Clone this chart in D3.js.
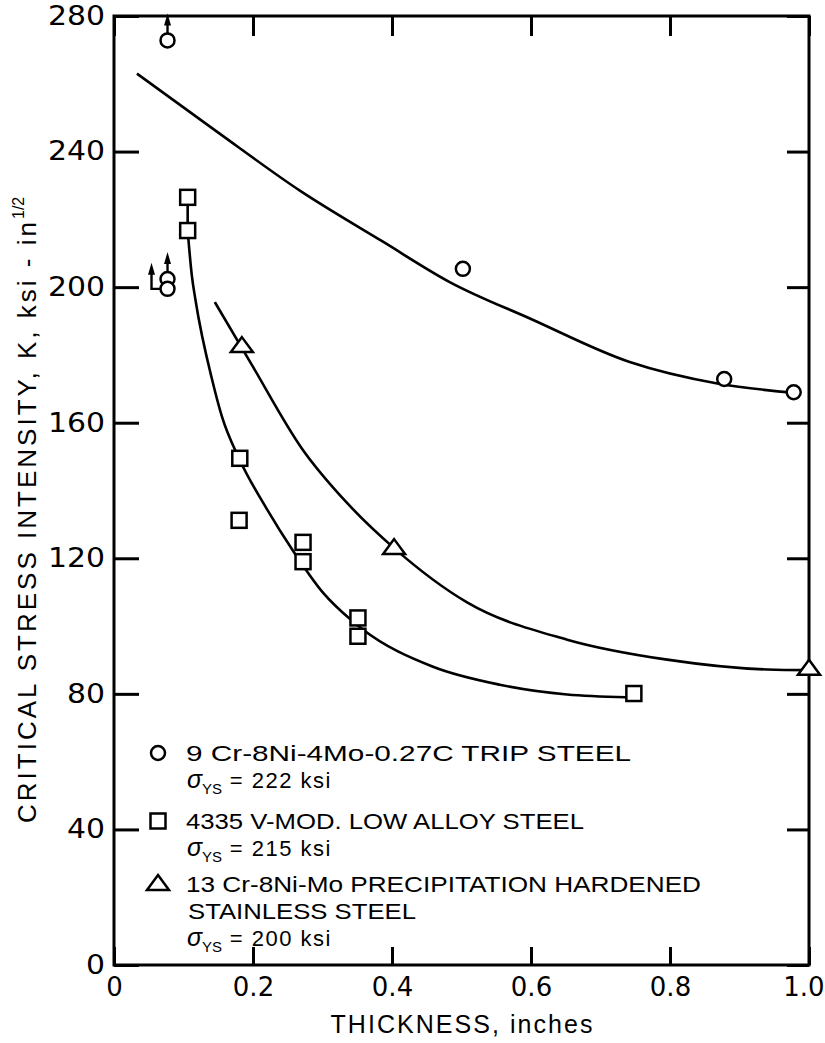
<!DOCTYPE html>
<html><head><meta charset="utf-8">
<script src="https://cdn.jsdelivr.net/npm/d3@7"></script>
<style>body{margin:0;background:#fff} svg{display:block}</style>
</head><body>
<script>
// ---- data ----
const xTicks = [0, 0.2, 0.4, 0.6, 0.8, 1.0];
const xTickLabels = ["0", "0.2", "0.4", "0.6", "0.8", "1.0"];
const yTicks = [0, 40, 80, 120, 160, 200, 240, 280];

// 9Cr-8Ni-4Mo-0.27C TRIP steel (circles)
const tripX = [0.077, 0.077, 0.077, 0.502, 0.878, 0.978];
const tripK = [272.8, 202.4, 199.5, 205.4, 172.9, 169.0];
const tripArrow = ["up", "up", "left", null, null, null];
// 4335 V-mod low alloy steel (squares)
const lowAlloyX = [0.106, 0.106, 0.181, 0.180, 0.272, 0.272, 0.351, 0.351, 0.748];
const lowAlloyK = [226.5, 216.7, 149.5, 131.2, 124.7, 119.0, 102.4, 97.0, 80.1];
// 13Cr-8Ni-Mo PH stainless (triangles)
const phX = [0.184, 0.403, 1.0];
const phK = [182.6, 123.0, 87.4];

// hand-faired curves
const tripCurveX = [0.033, 0.148, 0.268, 0.387, 0.483, 0.6, 0.742, 0.87, 0.98];
const tripCurveK = [263, 245.9, 228.4, 213.4, 201.5, 190.6, 177.9, 171.5, 168.8];
const lowAlloyCurveX = [0.106, 0.106, 0.112, 0.117, 0.142, 0.155, 0.181, 0.22, 0.258, 0.301, 0.34, 0.358, 0.459, 0.555, 0.652, 0.737];
const lowAlloyCurveK = [226.5, 216.7, 203.4, 196.5, 172, 162, 149, 134.5, 122.1, 109.8, 102, 99, 88, 82.7, 79.8, 79];
const phCurveX = [0.145, 0.196, 0.27, 0.335, 0.403, 0.508, 0.652, 0.796, 0.94, 1.0];
const phCurveK = [195.6, 177.9, 152.5, 136.4, 123, 107, 96, 90.1, 87.2, 87];

const legendSymbols = ["circle", "square", "triangle"];
const legendNames = ["9 Cr-8Ni-4Mo-0.27C TRIP STEEL", "4335 V-MOD. LOW ALLOY STEEL", "13 Cr-8Ni-Mo PRECIPITATION HARDENED"];
const legendExtra = [null, null, "STAINLESS STEEL"];
const legendYield = ["222 ksi", "215 ksi", "200 ksi"];

// ---- drawing ----
const W = 825, H = 1043;
const svg = d3.select("body").append("svg").attr("width", W).attr("height", H);
const x = d3.scaleLinear().domain([0, 1]).range([114, 809]);
const y = d3.scaleLinear().domain([0, 280]).range([965, 16]);
const tickFont = "'DejaVu Sans', sans-serif";
const textFont = "'Liberation Sans', Arial, sans-serif";

// frame
svg.append("rect").attr("x", x(0)).attr("y", y(280)).attr("width", x(1) - x(0)).attr("height", y(0) - y(280))
  .attr("fill", "none").attr("stroke", "#000").attr("stroke-width", 3);

function styleAxis(g) {
  g.select(".domain").remove();
  g.selectAll(".tick line").attr("stroke", "#000").attr("stroke-width", 3);
  g.selectAll("text").attr("font-family", tickFont).attr("font-size", 26).attr("fill", "#000");
}
const xAxisG = svg.append("g").attr("transform", `translate(0,${y(0)})`)
  .call(d3.axisBottom(x).tickValues(xTicks).tickSize(-18).tickPadding(13).tickFormat((d, i) => xTickLabels[i]))
  .call(styleAxis);
xAxisG.selectAll(".tick text").filter(d => d === 1).attr("text-anchor", "end").attr("x", 15);
svg.append("g").attr("transform", `translate(0,${y(280)})`)
  .call(d3.axisTop(x).tickValues(xTicks).tickSize(-20).tickFormat(""))
  .call(styleAxis);
svg.append("g").attr("transform", `translate(${x(0)},0)`)
  .call(d3.axisLeft(y).tickValues(yTicks).tickSize(-25).tickPadding(9).tickFormat(d3.format("d")))
  .call(styleAxis)
  .selectAll(".tick text")
  .attr("textLength", d => String(d).length * 19)
  .attr("lengthAdjust", "spacingAndGlyphs");
svg.append("g").attr("transform", `translate(${x(1)},0)`)
  .call(d3.axisRight(y).tickValues(yTicks).tickSize(-22).tickFormat(""))
  .call(styleAxis);

// axis titles
svg.append("text").attr("x", (x(0) + x(1)) / 2).attr("y", 1033).attr("text-anchor", "middle")
  .attr("font-family", textFont).attr("font-size", 25).attr("textLength", 262).attr("lengthAdjust", "spacing")
  .text("THICKNESS, inches");
const yt = svg.append("g").attr("transform", "translate(36,823) rotate(-90)");
yt.append("text").attr("x", 0).attr("y", 0).attr("font-family", textFont).attr("font-size", 26)
  .attr("textLength", 601).attr("lengthAdjust", "spacing")
  .text("CRITICAL STRESS INTENSITY, K, ksi - in");
yt.append("text").attr("x", 604).attr("y", -12).attr("font-family", textFont).attr("font-size", 16)
  .text("1/2");

// curves
const mono = d3.line().x(d => x(d[0])).y(d => y(d[1])).curve(d3.curveMonotoneX);
function curvePath(cx, ck) {
  const pts = cx.map((v, i) => [v, ck[i]]);
  // leading points sharing the same x are joined by a straight segment
  let k = 0;
  while (k + 1 < pts.length && pts[k + 1][0] === pts[k][0]) k++;
  const head = pts.slice(0, k).map((p, j) => (j === 0 ? "M" : "L") + x(p[0]) + "," + y(p[1])).join("");
  const tail = mono(pts.slice(k));
  return head ? head + "L" + tail.slice(1) : tail;
}
[[tripCurveX, tripCurveK], [lowAlloyCurveX, lowAlloyCurveK], [phCurveX, phCurveK]].forEach(([cx, ck]) => {
  svg.append("path").attr("d", curvePath(cx, ck))
    .attr("fill", "none").attr("stroke", "#000").attr("stroke-width", 2.6);
});

// markers
function drawSymbol(g, type, px, py) {
  if (type === "circle") {
    g.append("circle").attr("cx", px).attr("cy", py).attr("r", 7)
      .attr("fill", "#fff").attr("stroke", "#000").attr("stroke-width", 2.5);
  } else if (type === "square") {
    g.append("rect").attr("x", px - 7.5).attr("y", py - 7.5).attr("width", 15).attr("height", 15)
      .attr("fill", "#fff").attr("stroke", "#000").attr("stroke-width", 2.5);
  } else {
    g.append("path").attr("d", `M${px},${py - 9}L${px + 11},${py + 6}L${px - 11},${py + 6}Z`)
      .attr("fill", "#fff").attr("stroke", "#000").attr("stroke-width", 2.5).attr("stroke-linejoin", "miter");
  }
}
const marks = svg.append("g");
// arrows (lower-bound values)
tripX.forEach((v, i) => {
  const px = x(v), py = y(tripK[i]);
  if (tripArrow[i] === "up") {
    marks.append("line").attr("x1", px).attr("x2", px).attr("y1", py - 7).attr("y2", py - 18)
      .attr("stroke", "#000").attr("stroke-width", 2.4);
    marks.append("path").attr("d", `M${px},${py - 27}L${px + 3.5},${py - 15}L${px - 3.5},${py - 15}Z`).attr("fill", "#000");
  } else if (tripArrow[i] === "left") {
    marks.append("path").attr("d", `M${px - 7},${py}L${px - 16},${py}L${px - 16},${py - 16}`)
      .attr("fill", "none").attr("stroke", "#000").attr("stroke-width", 2.4);
    marks.append("path").attr("d", `M${px - 16},${py - 26}L${px - 12.5},${py - 14}L${px - 19.5},${py - 14}Z`).attr("fill", "#000");
  }
});
tripX.forEach((v, i) => drawSymbol(marks, "circle", x(v), y(tripK[i])));
lowAlloyX.forEach((v, i) => drawSymbol(marks, "square", x(v), y(lowAlloyK[i])));
phX.forEach((v, i) => drawSymbol(marks, "triangle", x(v), y(phK[i])));

// legend
const legendTop = [761, 829, 892];
const nameLen = [445, 398, 515];
const lg = svg.append("g").attr("font-family", textFont).attr("font-size", 22);
legendSymbols.forEach((s, i) => {
  let by = legendTop[i];
  drawSymbol(lg, s, 158, by - 8);
  lg.append("text").attr("x", 186).attr("y", by).attr("textLength", nameLen[i]).attr("lengthAdjust", "spacingAndGlyphs")
    .text(legendNames[i]);
  if (legendExtra[i]) {
    by += 27;
    lg.append("text").attr("x", 188).attr("y", by).attr("textLength", 228).attr("lengthAdjust", "spacingAndGlyphs").text(legendExtra[i]);
  }
  by += 27;
  const t = lg.append("text").attr("x", 187).attr("y", by);
  t.append("tspan").attr("font-size", 25).attr("font-style", "italic").text("σ");
  t.append("tspan").attr("font-size", 15).attr("dy", 6).text("YS");
  t.append("tspan").attr("dy", -6).attr("letter-spacing", 1.5).text(" = " + legendYield[i]);
});
</script>
</body></html>
